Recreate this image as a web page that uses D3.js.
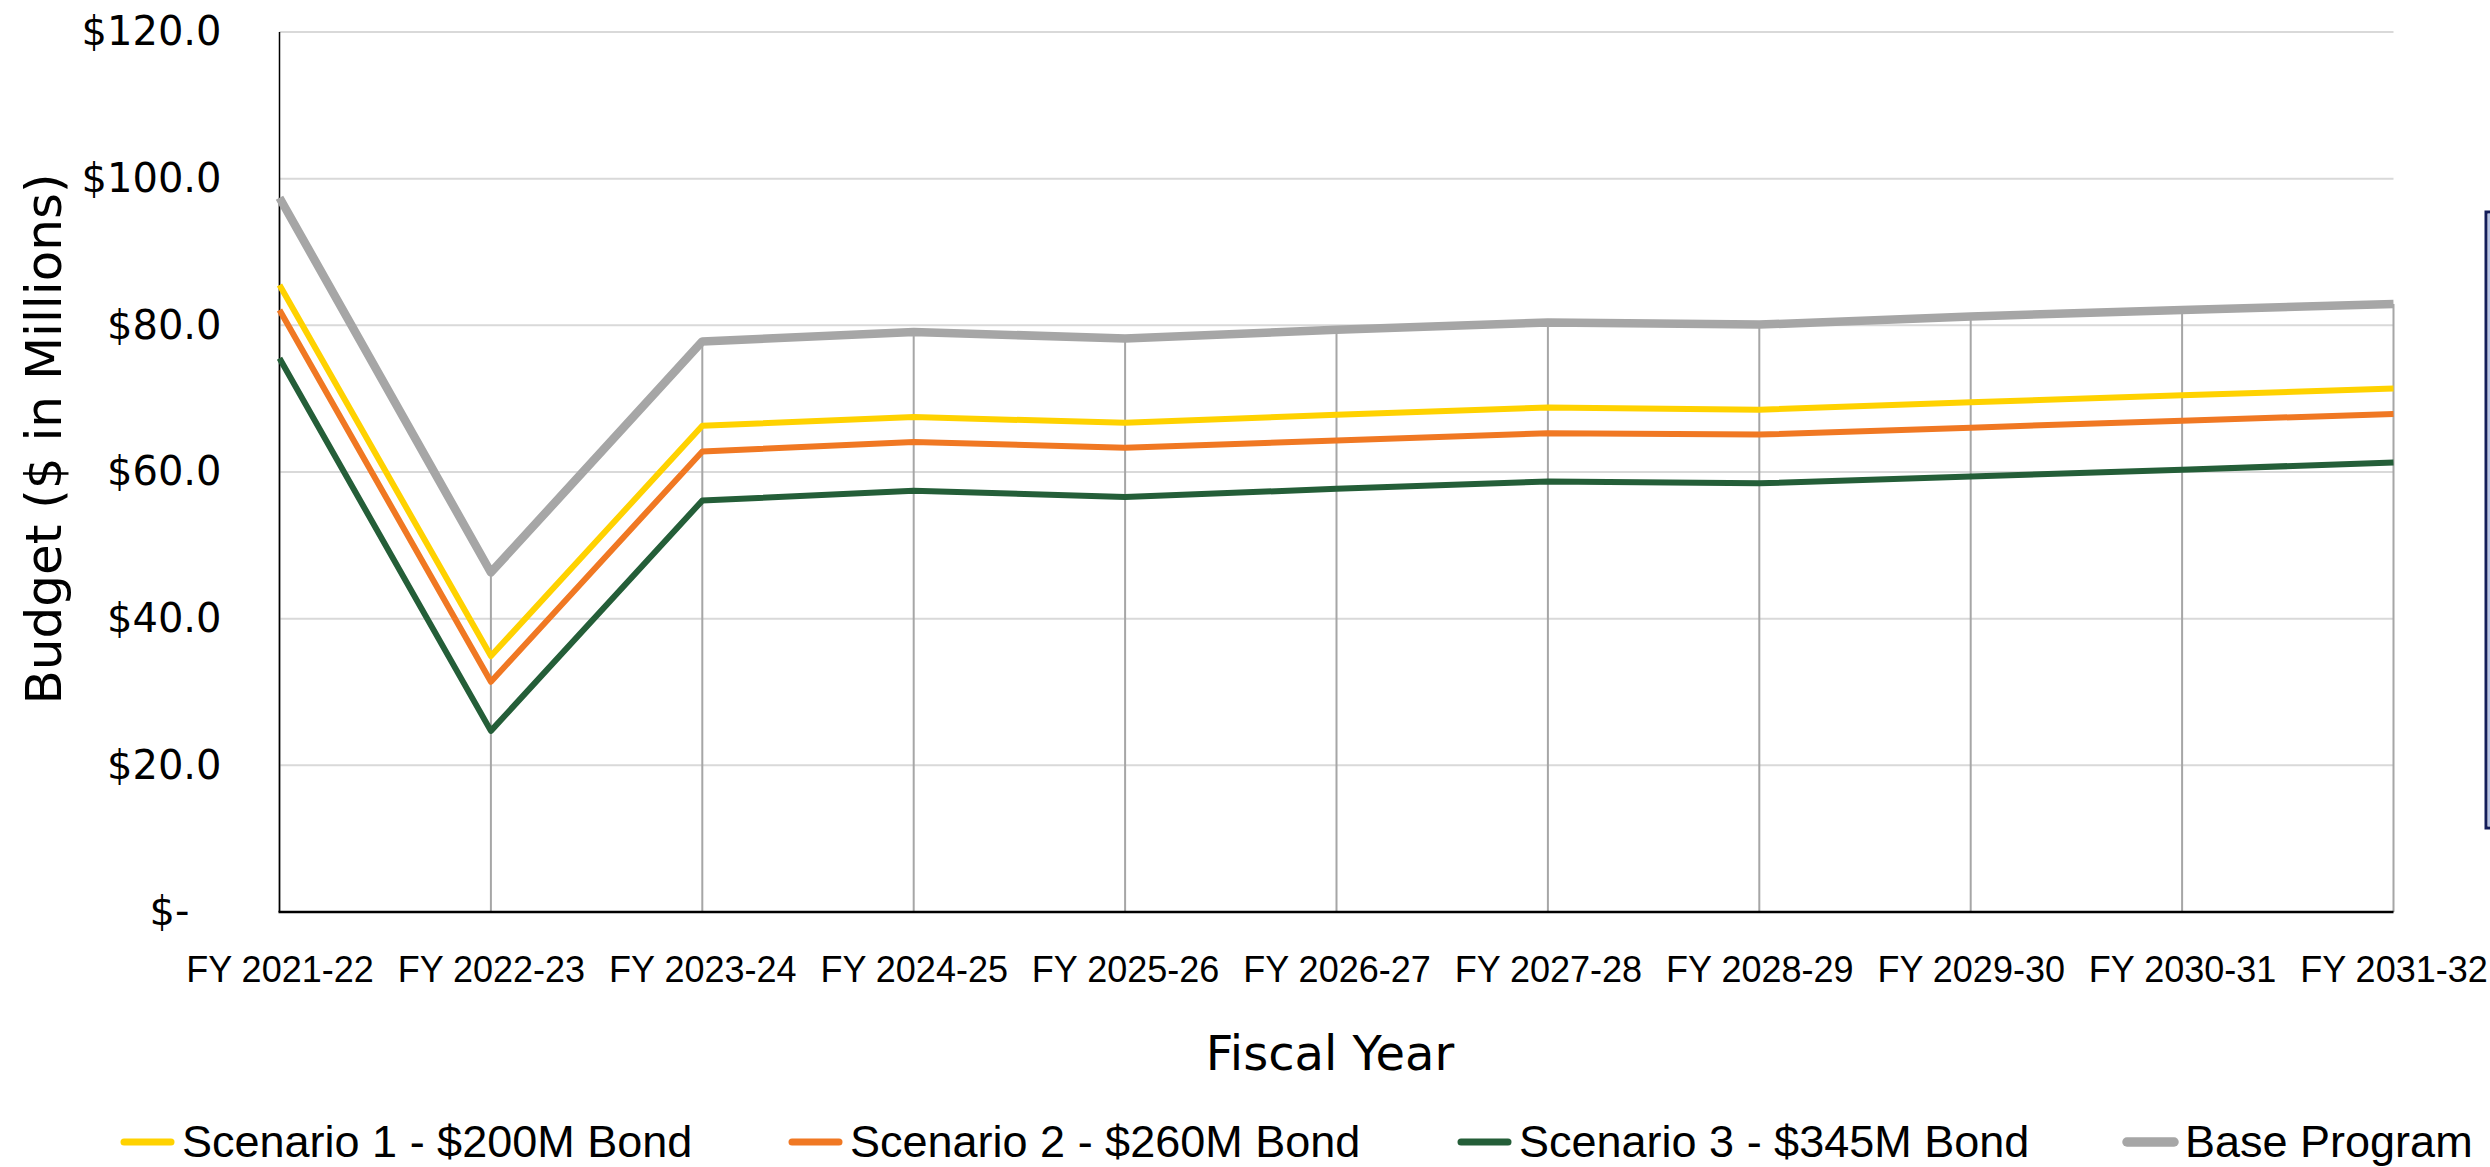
<!DOCTYPE html>
<html>
<head>
<meta charset="utf-8">
<script src="https://cdn.jsdelivr.net/npm/d3@7"></script>
<style>
body { margin: 0; background: #fff; }
.ytick text { font-family: "DejaVu Sans", sans-serif; font-size: 40px; fill: #000; }
.xtick text { font-family: "Liberation Sans", Arial, sans-serif; font-size: 36px; fill: #000; }
.title { font-family: "DejaVu Sans", sans-serif; font-size: 48px; fill: #000; }
.legend text { font-family: "Liberation Sans", Arial, sans-serif; font-size: 45px; fill: #000; }
</style>
</head>
<body>
<script>
var WIDTH = 2490, HEIGHT = 1167;
var PLOT = {left: 279.5, right: 2393.5, top: 32, bottom: 912};

var categories = ["FY 2021-22","FY 2022-23","FY 2023-24","FY 2024-25","FY 2025-26","FY 2026-27",
                  "FY 2027-28","FY 2028-29","FY 2029-30","FY 2030-31","FY 2031-32"];

var scenario1 = [85.5, 34.9, 66.3, 67.5, 66.7, 67.8, 68.8, 68.5, 69.5, 70.45, 71.4];
var scenario2 = [82.1, 31.4, 62.8, 64.1, 63.3, 64.3, 65.3, 65.1, 66.05, 67.0, 67.9];
var scenario3 = [75.5, 24.7, 56.1, 57.45, 56.6, 57.7, 58.7, 58.45, 59.4, 60.3, 61.3];
var baseProgram = [97.4, 46.3, 77.8, 79.1, 78.2, 79.4, 80.4, 80.1, 81.2, 82.1, 82.9];

var seriesNames = ["Scenario 1 - $200M Bond","Scenario 2 - $260M Bond","Scenario 3 - $345M Bond","Base Program"];

var yTicks = [0, 20, 40, 60, 80, 100, 120];
var yTickLabels = ["$-", "$20.0", "$40.0", "$60.0", "$80.0", "$100.0", "$120.0"];

var series = [
    {name: seriesNames[0], values: scenario1, color: "#FFD200", width: 6},
    {name: seriesNames[1], values: scenario2, color: "#F07823", width: 6},
    {name: seriesNames[2], values: scenario3, color: "#245E38", width: 6},
    {name: seriesNames[3], values: baseProgram, color: "#A6A6A6", width: 8.5}
];
// draw order: base program at the back like the original
var drawOrder = [3, 0, 1, 2];
var legendX = [120, 788, 1457, 2123];

var _xScale, _yScale, _svg;

var createChart = function(){
    _xScale = d3.scalePoint()
        .domain(categories)
        .range([PLOT.left, PLOT.right]);

    _yScale = d3.scaleLinear()
        .domain([0, 120])
        .range([PLOT.bottom, PLOT.top]);

    _svg = d3.select('body').append('svg')
        .attr('width', WIDTH)
        .attr('height', HEIGHT);

    // gridlines
    _svg.append('g').selectAll('line').data(yTicks.slice(1))
        .enter().append('line')
            .attr('x1', PLOT.left).attr('x2', PLOT.right)
            .attr('y1', function(d){ return _yScale(d); })
            .attr('y2', function(d){ return _yScale(d); })
            .attr('stroke', '#D9D9D9').attr('stroke-width', 2);

    // drop lines from highest series to the axis
    _svg.append('g').selectAll('line').data(categories)
        .enter().append('line')
            .attr('x1', function(d){ return _xScale(d); })
            .attr('x2', function(d){ return _xScale(d); })
            .attr('y1', function(d, i){ return _yScale(d3.max(series, function(s){ return s.values[i]; })); })
            .attr('y2', PLOT.bottom)
            .attr('stroke', '#A6A6A6').attr('stroke-width', 2);

    // y axis line
    _svg.append('line')
        .attr('x1', PLOT.left).attr('x2', PLOT.left)
        .attr('y1', PLOT.top).attr('y2', PLOT.bottom)
        .attr('stroke', '#000').attr('stroke-width', 1.5);

    generateAxis();

    var g = _svg.append('g');
    drawOrder.forEach(function(k){ createLine(series[k], g); });

    // x axis baseline
    _svg.append('line')
        .attr('x1', PLOT.left - 1).attr('x2', PLOT.right)
        .attr('y1', PLOT.bottom).attr('y2', PLOT.bottom)
        .attr('stroke', '#000').attr('stroke-width', 2.5);

    createLegend();

    // cut-off box at the right edge
    _svg.append('rect')
        .attr('x', 2486).attr('y', 212).attr('width', 30).attr('height', 616)
        .attr('fill', '#fff').attr('stroke', '#141E5A').attr('stroke-width', 3);
    _svg.append('line')
        .attr('x1', 2489).attr('x2', 2489).attr('y1', 214).attr('y2', 826)
        .attr('stroke', '#B8C4E4').attr('stroke-width', 2);
}

var generateAxis = function(){
    var yAxis = d3.axisLeft(_yScale)
        .tickValues(yTicks)
        .tickSize(0)
        .tickPadding(58)
        .tickFormat(function(d, i){ return yTickLabels[i]; });

    var ya = _svg.append('g')
        .attr('class', 'ytick')
        .attr('transform', 'translate(' + PLOT.left + ',0)')
        .call(yAxis);
    ya.select('.domain').remove();
    ya.selectAll('text')
        .attr('font-family', null).attr('font-size', null)
        .attr('dx', function(d){ return d === 0 ? -32 : 0; });

    var xAxis = d3.axisBottom(_xScale).tickSize(0);
    var xa = _svg.append('g')
        .attr('class', 'xtick')
        .attr('transform', 'translate(0,' + PLOT.bottom + ')')
        .call(xAxis);
    xa.select('.domain').remove();
    xa.selectAll('text')
        .attr('font-family', null).attr('font-size', null)
        .attr('y', 70).attr('dy', 0);

    _svg.append('text')
        .attr('class', 'title')
        .attr('x', 1330).attr('y', 1070)
        .attr('text-anchor', 'middle')
        .text('Fiscal Year');

    _svg.append('text')
        .attr('class', 'title')
        .attr('transform', 'translate(61,439) rotate(-90)')
        .attr('text-anchor', 'middle')
        .style('font-size', '50px')
        .text('Budget ($ in Millions)');
}

var createLine = function(s, g){
    var line = d3.line()
        .x(function(d, i){ return _xScale(categories[i]); })
        .y(function(d){ return _yScale(d); });

    g.append('path')
        .attr('d', line(s.values))
        .attr('fill', 'none')
        .attr('stroke', s.color)
        .attr('stroke-width', s.width)
        .attr('stroke-linejoin', 'round');
}

var createLegend = function(){
    var lg = _svg.append('g').attr('class', 'legend');
    var items = lg.selectAll('g').data(series)
        .enter().append('g')
            .attr('transform', function(d, i){ return 'translate(' + legendX[i] + ',1142)'; });

    items.append('line')
        .attr('x1', 4).attr('x2', 51)
        .attr('stroke', function(d){ return d.color; })
        .attr('stroke-width', function(d){ return d.width + 1; })
        .attr('stroke-linecap', 'round');

    items.append('text')
        .attr('x', 62).attr('y', 15)
        .text(function(d){ return d.name; });
}

createChart();
</script>
</body>
</html>
